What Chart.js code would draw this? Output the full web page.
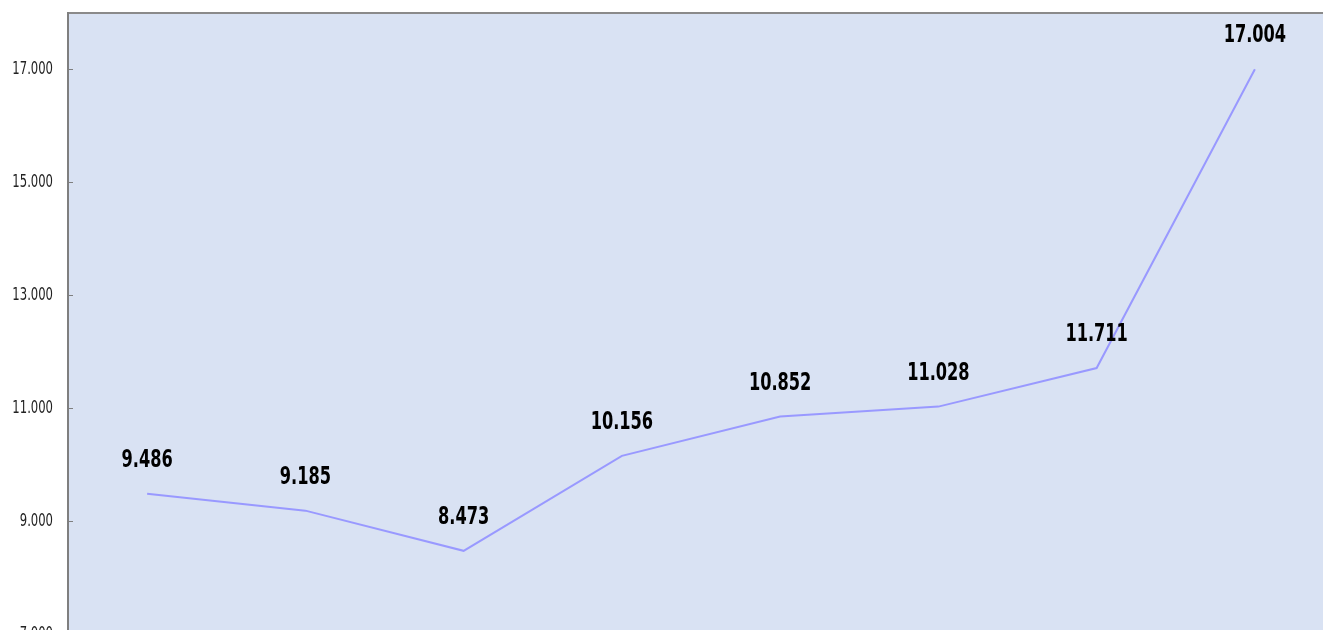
<!DOCTYPE html>
<html>
<head>
<meta charset="utf-8">
<script src="https://cdn.jsdelivr.net/npm/chart.js@4.4.1/dist/chart.umd.min.js"></script>
<style>
  html, body { margin: 0; padding: 0; background: #fff; overflow: hidden; }
  #chart { position: absolute; left: 0; top: 0; }
</style>
</head>
<body>
<canvas id="chart" width="1340" height="680"></canvas>
<script>
// chart data
const categories = ['2015', '2016', '2017', '2018', '2019', '2020', '2021', '2022'];
const values = [9.486, 9.185, 8.473, 10.156, 10.852, 11.028, 11.711, 17.004];
const yTicks = [7, 9, 11, 13, 15, 17];

const labelFont = '"DejaVu Sans Condensed", "Liberation Sans", sans-serif';

// draws narrow text by squeezing a condensed font horizontally
function narrowText(ctx, text, x, y, squeeze) {
  ctx.save();
  ctx.translate(x, y);
  ctx.scale(squeeze, 1);
  ctx.fillText(text, 0, 0);
  ctx.restore();
}

// plot background, top border, inner tick marks, tick labels and value labels
const plotDecor = {
  id: 'plotDecor',
  beforeDraw(chart) {
    const { ctx, chartArea } = chart;
    ctx.save();
    ctx.fillStyle = '#d9e2f3';
    ctx.fillRect(chartArea.left, chartArea.top, chartArea.right - chartArea.left, chartArea.bottom - chartArea.top);
    ctx.strokeStyle = '#8a8a8a';
    ctx.lineWidth = 2;
    ctx.beginPath();
    ctx.moveTo(chartArea.left, chartArea.top);
    ctx.lineTo(chartArea.right, chartArea.top);
    ctx.stroke();
    const y = chart.scales.y;
    ctx.lineWidth = 1;
    ctx.strokeStyle = '#7f7f7f';
    ctx.fillStyle = '#222';
    ctx.font = '17px ' + labelFont;
    ctx.textAlign = 'right';
    ctx.textBaseline = 'middle';
    yTicks.forEach(t => {
      const py = Math.round(y.getPixelForValue(t)) + 0.5;
      ctx.beginPath();
      ctx.moveTo(chartArea.left, py);
      ctx.lineTo(chartArea.left + 5, py);
      ctx.stroke();
      narrowText(ctx, t.toFixed(3), chartArea.left - 15, py, 0.76);
    });
    ctx.restore();
  },
  afterDatasetsDraw(chart) {
    const { ctx } = chart;
    const meta = chart.getDatasetMeta(0);
    ctx.save();
    ctx.font = 'bold 24px ' + labelFont;
    ctx.fillStyle = '#000';
    ctx.textAlign = 'center';
    ctx.textBaseline = 'alphabetic';
    meta.data.forEach((pt, i) => {
      narrowText(ctx, values[i].toFixed(3), pt.x, pt.y - 27, 0.75);
    });
    ctx.restore();
  }
};

new Chart(document.getElementById('chart'), {
  type: 'line',
  data: {
    labels: categories,
    datasets: [{
      data: values,
      borderColor: '#9999ff',
      borderWidth: 2,
      pointRadius: 0,
      tension: 0,
      fill: false
    }]
  },
  options: {
    responsive: false,
    animation: false,
    devicePixelRatio: 1,
    layout: { padding: { top: 13, right: 6, bottom: 46, left: 0 } },
    plugins: {
      legend: { display: false },
      tooltip: { enabled: false }
    },
    scales: {
      x: {
        display: false,
        offset: true
      },
      y: {
        min: 7,
        max: 18,
        afterBuildTicks(scale) {
          scale.ticks = yTicks.map(v => ({ value: v }));
        },
        afterFit(scale) {
          scale.width = 68;
          scale.paddingTop = 0;
          scale.paddingBottom = 0;
        },
        grid: { display: false },
        border: { display: true, color: '#7f7f7f', width: 2 },
        ticks: { display: false }
      }
    }
  },
  plugins: [plotDecor]
});
</script>
</body>
</html>
